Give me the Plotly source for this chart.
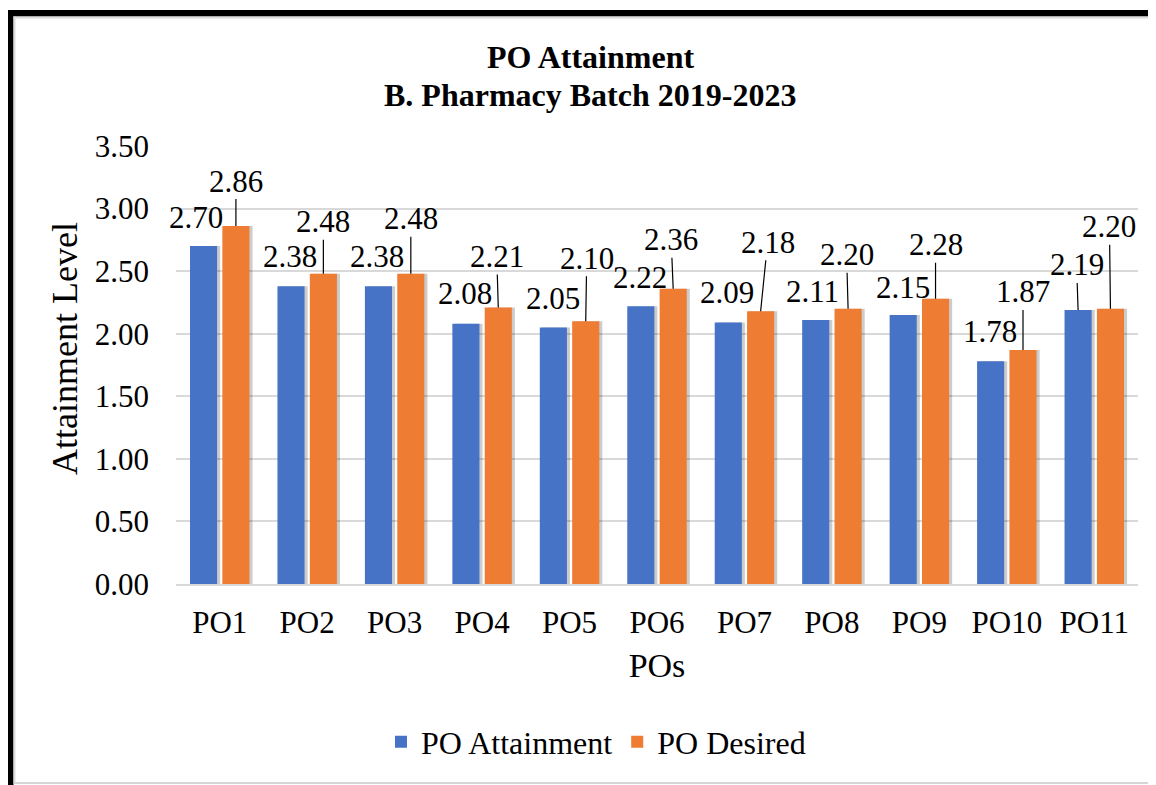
import plotly.graph_objects as go

categories = ["PO1", "PO2", "PO3", "PO4", "PO5", "PO6", "PO7", "PO8", "PO9", "PO10", "PO11"]
po_attainment = [2.70, 2.38, 2.38, 2.08, 2.05, 2.22, 2.09, 2.11, 2.15, 1.78, 2.19]
po_desired = [2.86, 2.48, 2.48, 2.21, 2.10, 2.36, 2.18, 2.20, 2.28, 1.87, 2.20]
y_ticks = [0, 0.5, 1.0, 1.5, 2.0, 2.5, 3.0, 3.5]
title_lines = ["PO Attainment", "B. Pharmacy Batch 2019-2023"]

# label placement (pixel offsets of label centre from bar top) and leader flags
att_dx = [-8, -1, -1.5, -1, 0, -1, -1.5, -3, 0, -1, -1.5]
att_dy = [-28.5, -30, -30, -30, -29, -29, -30, -28, -27.5, -29.5, -45]
att_leader = [False] * 10 + [True]
des_dx = [0, 0, 0, -1.5, 1, -2, 7, -1.5, 0, 0, -1]
des_dy = [-45, -52, -55, -51, -63, -49, -69, -54, -54, -58, -82]

FONT = 'Liberation Serif, "Times New Roman", serif'
PAGE = 8  # browser body margin
W, H = 1156 - PAGE, 785 - PAGE
L = 176 - PAGE
T = 146 - PAGE
R = W - (1138 - PAGE)
B = H - (584 - PAGE)
PW, PH = W - L - R, H - T - B
CAT_PX = PW / len(categories)

BAR_W = 0.31
OFF_A = -0.34
OFF_D = 0.03
SHADOW = 0.035

fig = go.Figure()

# soft shadows behind bars
for vals, off in ((po_attainment, OFF_A), (po_desired, OFF_D)):
    fig.add_trace(go.Bar(x=categories, y=vals, offset=off + SHADOW, width=BAR_W,
                         marker=dict(color="rgba(0,0,0,0.20)", line_width=0),
                         showlegend=False, hoverinfo="skip"))

fig.add_trace(go.Bar(x=categories, y=po_attainment, name="PO Attainment",
                     offset=OFF_A, width=BAR_W,
                     marker=dict(color="#4673C6", line_width=0)))
fig.add_trace(go.Bar(x=categories, y=po_desired, name="PO Desired",
                     offset=OFF_D, width=BAR_W,
                     marker=dict(color="#EE7C32", line_width=0)))

ca = (OFF_A + BAR_W / 2) * CAT_PX
cd = (OFF_D + BAR_W / 2) * CAT_PX

annotations = []
for i, c in enumerate(categories):
    for val, cx, dx, dy, leader in ((po_attainment[i], ca, att_dx[i], att_dy[i], att_leader[i]),
                                    (po_desired[i], cd, des_dx[i], des_dy[i], True)):
        annotations.append(dict(
            x=c, y=val, xref="x", yref="y", xshift=cx,
            text=f"{val:.2f}", showarrow=True, arrowhead=0, arrowwidth=1.2,
            arrowcolor="black" if leader else "rgba(0,0,0,0)",
            ax=dx, ay=dy, standoff=0, borderpad=0,
            font=dict(family=FONT, size=31, color="black")))


# positions given in reference-page pixels
def px_x(p):
    return (p - PAGE - L) / PW


def px_y(p):
    return (H - B - (p - PAGE)) / PH


# two-line chart title
for line, yc in zip(title_lines, (57, 95)):
    annotations.append(dict(
        text=f"<b>{line}</b>", xref="paper", yref="paper",
        x=px_x(590), y=px_y(yc), xanchor="center", yanchor="middle", showarrow=False,
        font=dict(family=FONT, size=32, color="black")))

# y-axis title (sits slightly above the plot-area centre)
annotations.append(dict(
    text="Attainment Level", textangle=-90, xref="paper", yref="paper",
    x=px_x(65), y=px_y(349), xanchor="center", yanchor="middle", showarrow=False,
    font=dict(family=FONT, size=36, color="black")))

shapes = [
    dict(type="rect", xref="paper", yref="paper", x0=px_x(7), x1=px_x(13.5), y0=px_y(800), y1=px_y(10),
         fillcolor="black", line_width=0, layer="above"),
    dict(type="rect", xref="paper", yref="paper", x0=px_x(7), x1=px_x(1170), y0=px_y(16.5), y1=px_y(10),
         fillcolor="black", line_width=0, layer="above"),
    dict(type="rect", xref="paper", yref="paper", x0=px_x(13.5), x1=px_x(15.5), y0=px_y(782), y1=px_y(16.5),
         fillcolor="#dcdcdc", line_width=0, layer="above"),
    dict(type="rect", xref="paper", yref="paper", x0=px_x(13.5), x1=px_x(1170), y0=px_y(18.5), y1=px_y(16.5),
         fillcolor="#dcdcdc", line_width=0, layer="above"),
    dict(type="rect", xref="paper", yref="paper", x0=px_x(13.5), x1=px_x(1170), y0=px_y(784), y1=px_y(782),
         fillcolor="#d6d6d6", line_width=0, layer="above"),
]

fig.update_layout(
    width=W, height=H,
    margin=dict(l=L, r=R, t=T, b=B, autoexpand=False),
    paper_bgcolor="white", plot_bgcolor="white",
    barmode="overlay",
    font=dict(family=FONT, size=31, color="black"),
    xaxis=dict(title=dict(text="POs", standoff=14, font=dict(size=34)),
               range=[-0.5, len(categories) - 0.5],
               showgrid=False, showline=True, linecolor="#d9d9d9", linewidth=2,
               ticks="", ticklabelstandoff=10, tickfont=dict(size=31)),
    yaxis=dict(range=[0, 3.5], tickvals=y_ticks, tickformat=".2f",
               showgrid=True, gridcolor="#d9d9d9", gridwidth=2,
               zeroline=False, showline=False, ticks="",
               ticklabelstandoff=26, tickfont=dict(size=31)),
    legend=dict(orientation="h", x=px_x(596), xanchor="center", y=px_y(742), yanchor="middle",
                font=dict(size=32), itemwidth=30, traceorder="normal"),
    annotations=annotations,
    shapes=shapes,
    showlegend=True,
)

fig.write_html("out.html")
